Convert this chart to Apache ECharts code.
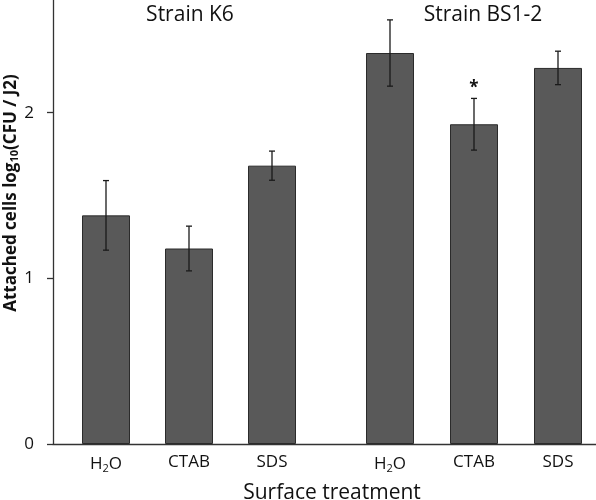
<!DOCTYPE html>
<html>
<head>
<meta charset="utf-8">
<script src="https://cdn.jsdelivr.net/npm/echarts@6/dist/echarts.min.js"></script>
<style>html,body{margin:0;padding:0;background:#fff}#c{width:596px;height:500px}</style>
</head>
<body>
<div id="c"></div>
<script>
// ---- data ----
const categories = ['H2O', 'CTAB', 'SDS'];
const groupTitles = ['Strain K6', 'Strain BS1-2'];
const k6Means = [1.38, 1.18, 1.68];
const k6Err = [0.21, 0.135, 0.088];
const k6Marks = ['', '', ''];
const bsMeans = [2.36, 1.93, 2.27];
const bsErr = [0.20, 0.156, 0.101];
const bsMarks = ['', '*', ''];
const yTicks = [0, 1, 2];
const yMax = 2.68;
const xTitle = 'Surface treatment';
const yTitle = 'Attached cells log{sub|10}(CFU / J2)';

const FONT = '"Open Sans", sans-serif';
const chart = echarts.init(document.getElementById('c'), null, {renderer: 'canvas'});

function catFmt(v) { return v === 'H2O' ? 'H{sub|2}O' : v; }
const catLabel = {
  show: true, interval: 0, hideOverlap: false, fontFamily: FONT, fontSize: 17, color: '#111', margin: 10,
  formatter: catFmt,
  rich: { sub: { fontFamily: FONT, fontSize: 11, color: '#111', padding: [9, 0, 0, 0] } }
};

function errData(means, errs, marks) {
  return means.map((m, i) => [i, m - errs[i], m + errs[i], marks[i]]);
}
function errRender(params, api) {
  const x = api.value(0);
  const lo = api.coord([x, api.value(1)]);
  const hi = api.coord([x, api.value(2)]);
  const cw = 3;
  const st = {stroke: '#1a1a1a', lineWidth: 1.3};
  const children = [
    {type: 'line', shape: {x1: lo[0], y1: lo[1], x2: hi[0], y2: hi[1]}, style: st},
    {type: 'line', shape: {x1: lo[0] - cw, y1: lo[1], x2: lo[0] + cw, y2: lo[1]}, style: st},
    {type: 'line', shape: {x1: hi[0] - cw, y1: hi[1], x2: hi[0] + cw, y2: hi[1]}, style: st}
  ];
  const mark = api.value(3);
  if (mark) {
    children.push({type: 'text', x: hi[0], y: hi[1] - 2,
      style: {text: mark, fontFamily: FONT, fontSize: 17, fontWeight: 'bold', fill: '#111',
        align: 'center', verticalAlign: 'bottom'}});
  }
  return {type: 'group', children};
}

const hiddenY = (gi) => ({gridIndex: gi, type: 'value', min: 0, max: yMax, interval: 1, show: false});
const barStyle = {color: '#595959', borderColor: '#2b2b2b', borderWidth: 1};

chart.setOption({
  animation: false,
  backgroundColor: '#fff',
  title: [
    {text: groupTitles[0], left: 185, top: 0, textAlign: 'center',
      textStyle: {fontFamily: FONT, fontSize: 21, fontWeight: 'normal', color: '#111'}},
    {text: groupTitles[1], left: 478, top: 0, textAlign: 'center',
      textStyle: {fontFamily: FONT, fontSize: 21, fontWeight: 'normal', color: '#111'}}
  ],
  graphic: [
    {type: 'text', x: 11, y: 193, rotation: Math.PI / 2,
      style: {text: yTitle, fontFamily: FONT, fontSize: 17, fontWeight: 'bold', fill: '#111',
        align: 'center', verticalAlign: 'middle',
        rich: {sub: {fontFamily: FONT, fontSize: 11, fontWeight: 'bold', fill: '#111', padding: [7, 0, 0, 0]}}}}
  ],
  grid: [
    {left: 53, right: 0, top: 0, bottom: 56, containLabel: false, outerBoundsMode: 'none'},
    {left: 64.5, width: 249, top: 0, bottom: 56, containLabel: false, outerBoundsMode: 'none'},
    {left: 348, width: 252, top: 0, bottom: 56, containLabel: false, outerBoundsMode: 'none'}
  ],
  xAxis: [
    {gridIndex: 0, type: 'category', data: [''],
      axisLine: {show: true, lineStyle: {color: '#333', width: 1.3}},
      axisTick: {show: false}, axisLabel: {show: false}, splitLine: {show: false},
      name: xTitle, nameLocation: 'middle', nameGap: 39,
      nameTextStyle: {fontFamily: FONT, fontSize: 21, color: '#111', padding: [0, 0, 0, 15]}},
    {gridIndex: 1, type: 'category', data: categories,
      axisLine: {show: false}, axisTick: {show: false}, axisLabel: catLabel},
    {gridIndex: 2, type: 'category', data: categories,
      axisLine: {show: false}, axisTick: {show: false}, axisLabel: catLabel}
  ],
  yAxis: [
    {gridIndex: 0, type: 'value', min: 0, max: yMax, interval: 1,
      axisLine: {show: true, lineStyle: {color: '#333', width: 1.3}},
      axisTick: {show: true, inside: false, length: 6, customValues: yTicks, lineStyle: {color: '#333', width: 1.3}},
      axisLabel: {customValues: yTicks, fontFamily: FONT, fontSize: 17, color: '#111', margin: 19},
      splitLine: {show: false}},
    hiddenY(1), hiddenY(2)
  ],
  series: [
    {type: 'bar', xAxisIndex: 1, yAxisIndex: 1, data: k6Means, barWidth: 48, itemStyle: barStyle},
    {type: 'bar', xAxisIndex: 2, yAxisIndex: 2, data: bsMeans, barWidth: 48, itemStyle: barStyle},
    {type: 'custom', xAxisIndex: 1, yAxisIndex: 1, renderItem: errRender,
      data: errData(k6Means, k6Err, k6Marks), z: 10},
    {type: 'custom', xAxisIndex: 2, yAxisIndex: 2, renderItem: errRender,
      data: errData(bsMeans, bsErr, bsMarks), z: 10}
  ]
});
</script>
</body>
</html>
